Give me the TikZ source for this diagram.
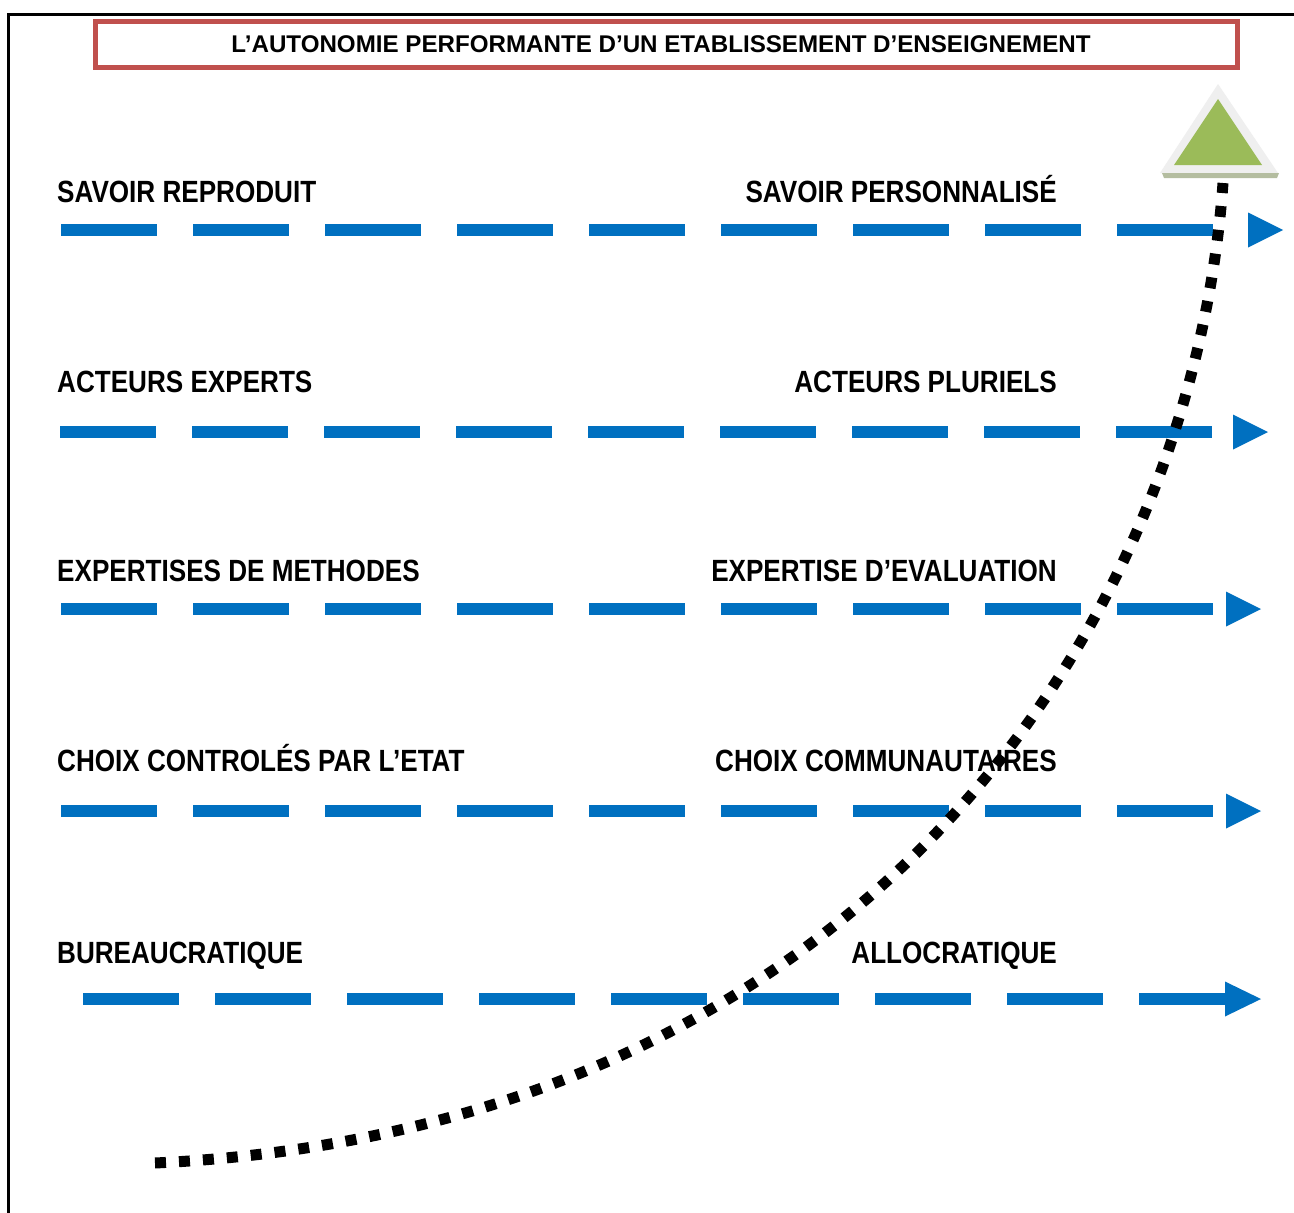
\documentclass[tikz,border=0pt]{standalone}
\usepackage{fontspec}
\newfontfamily\narrowfont[FakeStretch=0.85]{Liberation Sans}
\newfontfamily\titlefont{Liberation Sans}
\definecolor{titlered}{HTML}{C0504D}
\definecolor{rowblue}{HTML}{0070C0}
\definecolor{peakgreen}{HTML}{9BBB59}
\definecolor{peakglow}{HTML}{EFEFEF}
\definecolor{peakshadow}{HTML}{B4BDA0}
\tikzset{
  rowline/.style={draw=rowblue, line width=11.5pt, dash pattern=on 96pt off 36pt},
  rowhead/.style={fill=rowblue},
  leftlabel/.style={anchor=base west, inner sep=0pt, font=\narrowfont\bfseries\fontsize{30.7}{36}\selectfont},
  rightlabel/.style={anchor=base east, inner sep=0pt, font=\narrowfont\bfseries\fontsize{30.7}{36}\selectfont},
  growth/.style={draw=black, line width=11pt, dash pattern=on 11pt off 13pt},
}
\begin{document}
\begin{tikzpicture}[x=1pt, y=-1pt]
\useasboundingbox (0,0) rectangle (1294,1213);
\clip (0,0) rectangle (1294,1213);
\fill[white] (0,0) rectangle (1294,1213);

% outer frame
\draw[line width=3pt] (8.5,1230) -- (8.5,14.5) -- (1310,14.5);

% title
\draw[titlered, line width=5pt] (95.5,21.5) rectangle (1237.5,67.5);
\node[anchor=base, inner sep=0pt, font=\titlefont\bfseries\fontsize{24.15}{28}\selectfont] (title) at (661,52.5)
  {L’AUTONOMIE PERFORMANTE D’UN ETABLISSEMENT D’ENSEIGNEMENT};

% peak marker
\fill[peakglow] (1218,84) -- (1160,173) -- (1278,173) -- cycle;
\fill[peakshadow] (1162,173) -- (1279,173) -- (1277,178) -- (1164,178) -- cycle;
\fill[peakgreen] (1218,99) -- (1174,165) -- (1262,165) -- cycle;

% row 1
\node[leftlabel] (l1) at (57,202) {SAVOIR REPRODUIT};
\node[rightlabel] (r1) at (1057,202) {SAVOIR PERSONNALISÉ};
\draw[rowline] (61,230) -- (1213,230);
\fill[rowhead] (1248,212.5) -- (1283,230) -- (1248,247.5) -- cycle;

% row 2
\node[leftlabel] (l2) at (57,392) {ACTEURS EXPERTS};
\node[rightlabel] (r2) at (1057,392) {ACTEURS PLURIELS};
\draw[rowline] (60,432) -- (1212,432);
\fill[rowhead] (1233,414.5) -- (1268,432) -- (1233,449.5) -- cycle;

% row 3
\node[leftlabel] (l3) at (57,581) {EXPERTISES DE METHODES};
\node[rightlabel] (r3) at (1057,581) {EXPERTISE D’EVALUATION};
\draw[rowline] (61,609) -- (1213,609);
\fill[rowhead] (1226,591.5) -- (1261,609) -- (1226,626.5) -- cycle;

% row 4
\node[leftlabel] (l4) at (57,771) {CHOIX CONTROLÉS PAR L’ETAT};
\node[rightlabel] (r4) at (1057,771) {CHOIX COMMUNAUTAIRES};
\draw[rowline] (61,811) -- (1213,811);
\fill[rowhead] (1226,793.5) -- (1261,811) -- (1226,828.5) -- cycle;

% row 5
\node[leftlabel] (l5) at (57,963) {BUREAUCRATIQUE};
\node[rightlabel] (r5) at (1057,963) {ALLOCRATIQUE};
\draw[rowline] (83,999) -- (1230,999);
\fill[rowhead] (1225,981.5) -- (1261,999) -- (1225,1016.5) -- cycle;

% growth curve
\draw[growth] (155,1163) .. controls (850,1130) and (1190,640) .. (1223,183);
\end{tikzpicture}
\end{document}
